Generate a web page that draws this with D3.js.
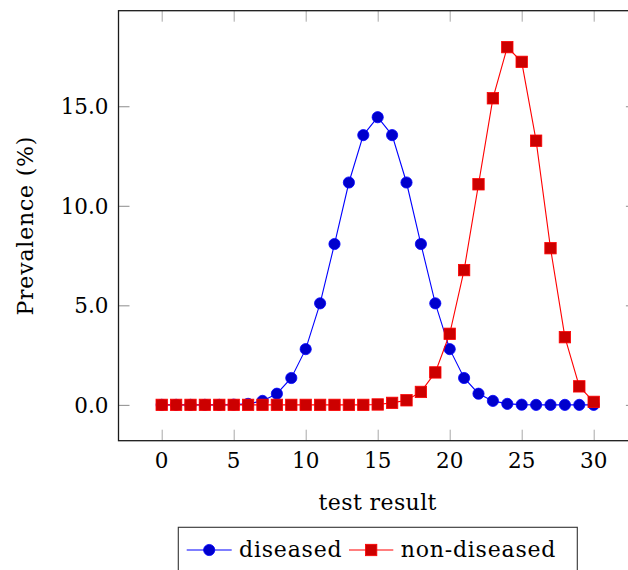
<!DOCTYPE html>
<html>
<head>
<meta charset="utf-8">
<script src="https://cdn.jsdelivr.net/npm/d3@7"></script>
<style>
    body { margin: 0; background: #fff; }
    svg { display: block; font-family: "DejaVu Serif", serif; }
</style>
</head>
<body>
<script>
const testResults = d3.range(0, 31);
const diseased = [0, 0, 0, 0, 0, 0.01, 0.05, 0.2, 0.56, 1.35, 2.8, 5.1, 8.08, 11.17, 13.55, 14.45,
    13.55, 11.17, 8.08, 5.1, 2.8, 1.35, 0.56, 0.2, 0.05, 0.01, 0, 0, 0, 0, 0];
const nonDiseased = [0, 0, 0, 0, 0, 0, 0, 0, 0, 0, 0, 0, 0, 0, 0, 0.02,
    0.1, 0.23, 0.65, 1.63, 3.57, 6.77, 11.08, 15.4, 17.97, 17.23, 13.27, 7.87, 3.4, 0.93, 0.15];
const xTicks = [0, 5, 10, 15, 20, 25, 30];
const yTicks = [0, 5, 10, 15];
const seriesNames = ["diseased", "non-diseased"];

const WIDTH = 628;
const HEIGHT = 570;
const FONT_SIZE = 21.5;
const LABEL_SIZE = 22;
const LABEL_SPACING = 0.8; // DejaVu Serif is narrower than the Charter-like original

const svg = d3.select("body").append("svg")
    .attr("width", WIDTH)
    .attr("height", HEIGHT);

// axis box: x enlarged by 10% of data range (-3..33), right side falls off the canvas
let x = d3.scaleLinear().domain([-3, 33]).range([118.5, 636.9]);
let y = d3.scaleLinear().domain([-1.8, 19.8]).range([440.7, 10.7]);

let plot = svg.append("g");

// ticks, all pointing inward, drawn on all four sides
function tickLines(axis, tickLen, color) {
    let g = plot.append("g").call(axis.tickSize(tickLen).tickFormat(""));
    g.select(".domain").remove();
    g.selectAll("line").attr("stroke", color).attr("stroke-width", 1);
    return g;
}

tickLines(d3.axisTop(x).tickValues(xTicks), 11, "#a8a8a8")
    .attr("transform", "translate(0," + y.range()[0] + ")");
tickLines(d3.axisBottom(x).tickValues(xTicks), 11, "#a8a8a8")
    .attr("transform", "translate(0," + y.range()[1] + ")");
tickLines(d3.axisRight(y).tickValues(yTicks), 11, "#8c8c8c")
    .attr("transform", "translate(" + x.range()[0] + ",0)");
tickLines(d3.axisLeft(y).tickValues(yTicks), 11, "#8c8c8c")
    .attr("transform", "translate(" + x.range()[1] + ",0)");

// frame
plot.append("rect")
    .attr("x", x.range()[0])
    .attr("y", y.range()[1])
    .attr("width", x.range()[1] - x.range()[0])
    .attr("height", y.range()[0] - y.range()[1])
    .attr("fill", "none")
    .attr("stroke", "#1a1a1a")
    .attr("stroke-width", 1.3);

// tick labels
plot.append("g").selectAll("text")
    .data(xTicks)
    .enter().append("text")
    .attr("x", function (d) { return x(d); })
    .attr("y", 468.3)
    .attr("text-anchor", "middle")
    .attr("font-size", FONT_SIZE)
    .attr("fill", "#000")
    .text(function (d) { return d; });

plot.append("g").selectAll("text")
    .data(yTicks)
    .enter().append("text")
    .attr("x", 108.5)
    .attr("y", function (d) { return y(d); })
    .attr("dy", "0.36em")
    .attr("text-anchor", "end")
    .attr("font-size", FONT_SIZE)
    .attr("fill", "#000")
    .text(function (d) { return d3.format(".1f")(d); });

// axis titles
svg.append("text")
    .attr("x", x(15))
    .attr("y", 510)
    .attr("text-anchor", "middle")
    .attr("font-size", LABEL_SIZE)
    .attr("letter-spacing", 0.4)
    .attr("fill", "#000")
    .text("test result");

svg.append("text")
    .attr("transform", "translate(33," + (y.range()[0] + y.range()[1]) / 2 + ") rotate(-90)")
    .attr("text-anchor", "middle")
    .attr("font-size", LABEL_SIZE)
    .attr("letter-spacing", LABEL_SPACING)
    .attr("fill", "#000")
    .text("Prevalence (%)");

// series
let line = d3.line()
    .x(function (d) { return x(d[0]); })
    .y(function (d) { return y(d[1]); });

let diseasedPts = testResults.map(function (t, i) { return [t, diseased[i]]; });
let nonDiseasedPts = testResults.map(function (t, i) { return [t, nonDiseased[i]]; });

plot.append("path")
    .datum(diseasedPts)
    .attr("d", line)
    .attr("fill", "none")
    .attr("stroke", "#0000ff")
    .attr("stroke-width", 1.1);

plot.append("g").selectAll("circle")
    .data(diseasedPts)
    .enter().append("circle")
    .attr("cx", function (d) { return x(d[0]); })
    .attr("cy", function (d) { return y(d[1]); })
    .attr("r", 5.6)
    .attr("fill", "#0000cc")
    .attr("stroke", "#0000ff")
    .attr("stroke-width", 0.8);

plot.append("path")
    .datum(nonDiseasedPts)
    .attr("d", line)
    .attr("fill", "none")
    .attr("stroke", "#ff0000")
    .attr("stroke-width", 1.1);

const SQ = 11.4;
plot.append("g").selectAll("rect")
    .data(nonDiseasedPts)
    .enter().append("rect")
    .attr("x", function (d) { return x(d[0]) - SQ / 2; })
    .attr("y", function (d) { return y(d[1]) - SQ / 2; })
    .attr("width", SQ)
    .attr("height", SQ)
    .attr("fill", "#cc0000")
    .attr("stroke", "#ff0000")
    .attr("stroke-width", 0.8);

// legend
let legend = svg.append("g");

legend.append("rect")
    .attr("x", 178.3)
    .attr("y", 527.3)
    .attr("width", 399)
    .attr("height", 60)
    .attr("fill", "#fff")
    .attr("stroke", "#333")
    .attr("stroke-width", 1.1);

const legendY = 550;
const entries = [
    { name: seriesNames[0], x0: 186.7, x1: 231.7, text: 239, color: "#0000ff", fill: "#0000cc", mark: "circle" },
    { name: seriesNames[1], x0: 349, x1: 393.3, text: 400.7, color: "#ff0000", fill: "#cc0000", mark: "square" },
];

entries.forEach(function (e) {
    legend.append("line")
        .attr("x1", e.x0).attr("x2", e.x1)
        .attr("y1", legendY).attr("y2", legendY)
        .attr("stroke", e.color)
        .attr("stroke-width", 1.1);

    let cx = (e.x0 + e.x1) / 2;
    if (e.mark == "circle") {
        legend.append("circle")
            .attr("cx", cx).attr("cy", legendY).attr("r", 5.6)
            .attr("fill", e.fill).attr("stroke", e.color).attr("stroke-width", 0.8);
    } else {
        legend.append("rect")
            .attr("x", cx - SQ / 2).attr("y", legendY - SQ / 2)
            .attr("width", SQ).attr("height", SQ)
            .attr("fill", e.fill).attr("stroke", e.color).attr("stroke-width", 0.8);
    }

    legend.append("text")
        .attr("x", e.text)
        .attr("y", 557)
        .attr("font-size", LABEL_SIZE)
        .attr("letter-spacing", LABEL_SPACING)
        .attr("fill", "#000")
        .text(e.name);
});
</script>
</body>
</html>
